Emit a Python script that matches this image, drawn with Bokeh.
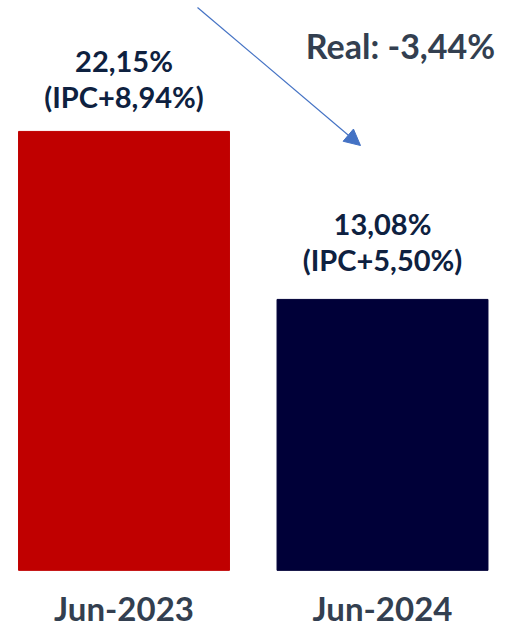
from bokeh.plotting import figure
from bokeh.models import ColumnDataSource, Arrow, NormalHead, Label
from bokeh.core.properties import value
from bokeh.embed import file_html
from bokeh.resources import INLINE

# ---- data ----
categories = ["Jun-2023", "Jun-2024"]
rates = [22.15, 13.08]
rate_labels = ["22,15%", "13,08%"]
ipc_labels = ["(IPC+8,94%)", "(IPC+5,50%)"]
bar_colors = ["#C00000", "#000038"]
real_label = "Real: -3,44%"

# ---- layout constants ----
W, H = 505, 628
X_START = -0.4778
PX_X = 258.5
X_END = X_START + W / PX_X
PX_Y = 18.52
Y_END = 29.22
Y_START = Y_END - H / PX_Y
BASE = -1.55
LINE1_OFFSETS = [-71, -76]
LINE2_OFFSETS = [-35, -40]


def fx(px):
    return X_START + px / PX_X


def fy(py):
    return Y_END - py / PX_Y


xs = list(range(len(categories)))
src = ColumnDataSource(dict(x=xs, top=rates, color=bar_colors,
                            l1=rate_labels, l2=ipc_labels,
                            cat=categories, base=[BASE] * len(xs),
                            o1=LINE1_OFFSETS, o2=LINE2_OFFSETS))

p = figure(width=W, height=H, output_backend="svg", toolbar_location=None,
           x_range=(X_START, X_END), y_range=(Y_START, Y_END),
           min_border=0)
p.outline_line_color = None
p.background_fill_color = "white"
p.border_fill_color = "white"
p.grid.visible = False
p.axis.visible = False

p.vbar(x="x", top="top", bottom=BASE, width=0.816, color="color", source=src)

font = value("Lato")
p.text(x="x", y="top", text="l1", source=src, text_font=font,
       text_font_style="bold", text_font_size="29px", text_color="#0E2140",
       text_align="center", text_baseline="middle", y_offset="o1")
p.text(x="x", y="top", text="l2", source=src, text_font=font,
       text_font_style="bold", text_font_size="29px", text_color="#0E2140",
       text_align="center", text_baseline="middle", y_offset="o2")

# category labels (x axis)
p.text(x="x", y="base", text="cat", source=src, text_font=font,
       text_font_style="bold", text_font_size="33px", text_color="#333F50",
       text_align="center", text_baseline="middle", y_offset=38)

p.add_layout(Arrow(x_start=fx(197), y_start=fy(7), x_end=fx(360), y_end=fy(145),
                   line_color="#4472C4", line_width=1.2,
                   end=NormalHead(size=16, fill_color="#4472C4",
                                  line_color="#4472C4")))

p.add_layout(Label(x=fx(400), y=fy(45), text=real_label, text_font="Lato",
                   text_font_style="bold", text_font_size="34px",
                   text_color="#333F50", text_align="center",
                   text_baseline="middle"))

open("out.html", "w").write(file_html(p, INLINE))
